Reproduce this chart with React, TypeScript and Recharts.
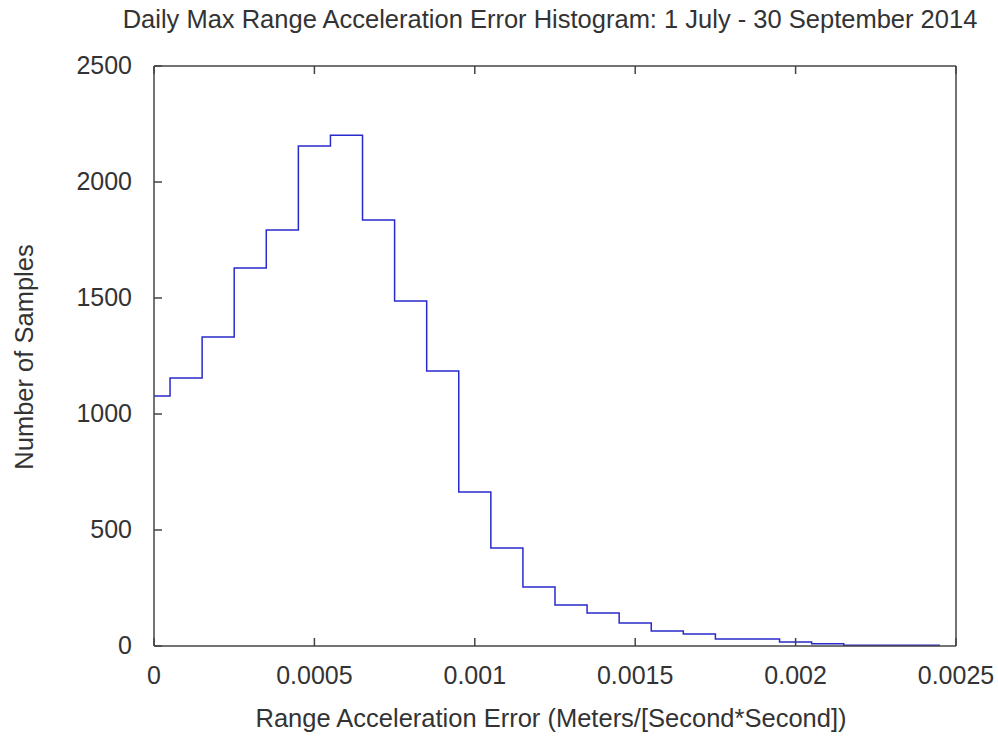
import React from 'react';
import { LineChart, Line, XAxis, YAxis } from 'recharts';

// bin edges (left edge of each step, plus the final right edge)
const binEdges = [
    0, 0.00005, 0.00015, 0.00025, 0.00035, 0.00045, 0.00055, 0.00065, 0.00075,
    0.00085, 0.00095, 0.00105, 0.00115, 0.00125, 0.00135, 0.00145, 0.00155,
    0.00165, 0.00175, 0.00185, 0.00195, 0.00205, 0.00215, 0.00225, 0.00235, 0.00245,
];
// samples per bin
const counts = [
    1078, 1155, 1332, 1629, 1793, 2155, 2202, 1836, 1487, 1185, 664, 422, 254,
    177, 142, 99, 65, 52, 30, 30, 17, 10, 3, 3, 3,
];
const xTicks = [0, 0.0005, 0.001, 0.0015, 0.002, 0.0025];
const yTicks = [0, 500, 1000, 1500, 2000, 2500];

const title = 'Daily Max Range Acceleration Error Histogram: 1 July - 30 September 2014';
const xLabel = 'Range Acceleration Error (Meters/[Second*Second])';
const yLabel = 'Number of Samples';

// histeps: last edge repeats the last count so the final step is drawn
const data = binEdges.map((x, i) => ({ x, n: counts[Math.min(i, counts.length - 1)] }));

const FONT = '"Liberation Sans", Arial, sans-serif';
const TEXT = '#333';
const AXIS = '#444';
const TICK = 8;

const BottomTick = ({ x, y, payload }: any) => (
    <g>
        <line x1={x} y1={y} x2={x} y2={y - TICK} stroke={AXIS} strokeWidth={1.5} />
        <text x={x} y={y + 38} textAnchor="middle" fill={TEXT} fontSize={25} fontFamily={FONT}>
            {String(payload.value)}
        </text>
    </g>
);

const TopTick = ({ x, y }: any) => (
    <line x1={x} y1={y} x2={x} y2={y + TICK} stroke={AXIS} strokeWidth={1.5} />
);

const LeftTick = ({ x, y, payload }: any) => (
    <g>
        <line x1={x} y1={y} x2={x + TICK} y2={y} stroke={AXIS} strokeWidth={1.5} />
        <text x={x - 22} y={y + 8} textAnchor="end" fill={TEXT} fontSize={25} fontFamily={FONT}>
            {payload.value}
        </text>
    </g>
);

const RightTick = ({ x, y }: any) => (
    <line x1={x} y1={y} x2={x - TICK} y2={y} stroke={AXIS} strokeWidth={1.5} />
);

export default function App() {
    return (
        <div style={{ position: 'absolute', left: 0, top: 0, width: 998, height: 740, background: '#fff' }}>
            <LineChart
                width={998}
                height={740}
                data={data}
                margin={{ top: 65, right: 41, left: 94, bottom: 54 }}
            >
                <XAxis
                    xAxisId="bottom"
                    dataKey="x"
                    type="number"
                    domain={[0, 0.0025]}
                    ticks={xTicks}
                    height={40}
                    tickSize={0}
                    tickMargin={0}
                    tickLine={false}
                    tick={<BottomTick />}
                    stroke={AXIS}
                    strokeWidth={1.5}
                    allowDataOverflow
                />
                <XAxis
                    xAxisId="top"
                    orientation="top"
                    dataKey="x"
                    type="number"
                    domain={[0, 0.0025]}
                    ticks={xTicks}
                    height={1}
                    tickSize={0}
                    tickMargin={0}
                    tickLine={false}
                    tick={<TopTick />}
                    stroke={AXIS}
                    strokeWidth={1.5}
                />
                <YAxis
                    yAxisId="left"
                    type="number"
                    domain={[0, 2500]}
                    ticks={yTicks}
                    width={60}
                    tickSize={0}
                    tickMargin={0}
                    tickLine={false}
                    tick={<LeftTick />}
                    stroke={AXIS}
                    strokeWidth={1.5}
                />
                <YAxis
                    yAxisId="right"
                    orientation="right"
                    type="number"
                    domain={[0, 2500]}
                    ticks={yTicks}
                    width={1}
                    tickSize={0}
                    tickMargin={0}
                    tickLine={false}
                    tick={<RightTick />}
                    stroke={AXIS}
                    strokeWidth={1.5}
                />
                <Line
                    xAxisId="bottom"
                    yAxisId="left"
                    type="stepAfter"
                    dataKey="n"
                    stroke="#2a2acc"
                    strokeWidth={1.5}
                    dot={false}
                    isAnimationActive={false}
                />
                <text x={550} y={28} textAnchor="middle" fill={TEXT} fontSize={25.5} fontFamily={FONT}>
                    {title}
                </text>
                <text x={551} y={727} textAnchor="middle" fill={TEXT} fontSize={25.5} fontFamily={FONT}>
                    {xLabel}
                </text>
                <text
                    x={33}
                    y={357}
                    textAnchor="middle"
                    fill={TEXT}
                    fontSize={25.5}
                    fontFamily={FONT}
                    transform="rotate(-90 33 357)"
                >
                    {yLabel}
                </text>
            </LineChart>
        </div>
    );
}
